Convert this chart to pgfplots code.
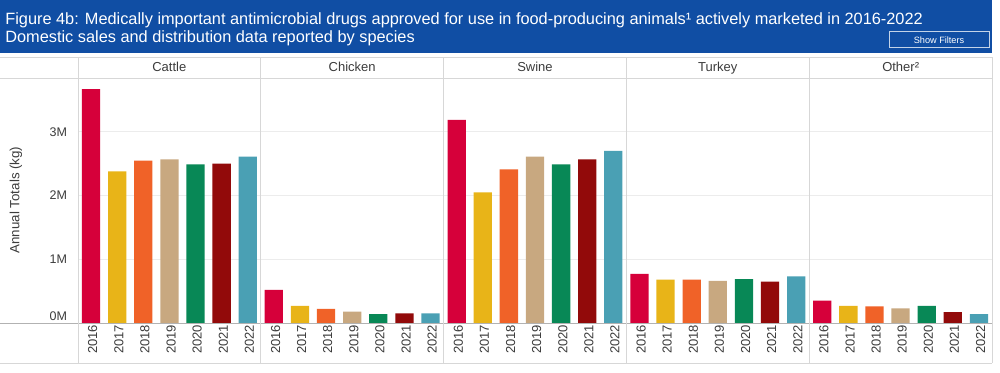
\documentclass[border=0pt]{standalone}
\usepackage{pgfplots}
\pgfplotsset{compat=1.18}
\usepackage{fontspec}
\setmainfont{Liberation Sans}
\definecolor{hdrblue}{RGB}{16,78,164}
\definecolor{c2016}{RGB}{214,0,58}
\definecolor{c2017}{RGB}{232,180,24}
\definecolor{c2018}{RGB}{240,98,40}
\definecolor{c2019}{RGB}{200,168,128}
\definecolor{c2020}{RGB}{8,136,86}
\definecolor{c2021}{RGB}{146,10,10}
\definecolor{c2022}{RGB}{74,160,180}
\definecolor{gridgray}{RGB}{236,236,236}
\definecolor{sepgray}{RGB}{215,215,215}
\definecolor{labgray}{RGB}{60,60,60}
\begin{document}
\begin{tikzpicture}[x=1pt,y=1pt]
\path[use as bounding box] (0,0) rectangle (600,223.8);
\fill[white] (0,0) rectangle (600,223.8);
% header
\fill[hdrblue] (0,192) rectangle (595.2,223.8);
\node[anchor=base west, inner sep=0pt, text=white, font=\fontsize{9.8}{11}\selectfont] at (3,209) {Figure 4b: Medically important antimicrobial drugs approved for use in food-producing animals¹ actively marketed in 2016-2022};
\node[anchor=base west, inner sep=0pt, text=white, font=\fontsize{9.8}{11}\selectfont] at (3,198.0) {Domestic sales and distribution data reported by species};
\draw[white!75!hdrblue, line width=0.6pt] (533.4,195) rectangle (593.4,204.6);
\node[text=white, font=\fontsize{5.5}{6}\selectfont, inner sep=0pt] at (563.4,199.8) {Show Filters};
\begin{axis}[
  at={(46.8pt,30pt)}, anchor=south west,
  scale only axis, width=548.4pt, height=147pt,
  xmin=-0.5, xmax=34.5, ymin=0, ymax=3.846,
  axis line style={draw=none},
  major tick length=0pt,
  ymajorgrids, major grid style={color=gridgray, line width=0.5pt},
  ytick={1,2,3}, yticklabels={1M,2M,3M},
  extra y ticks={0.1}, extra y tick labels={0M},
  extra y tick style={grid=none},
  yticklabel style={font=\fontsize{7.5}{9}\selectfont, text=labgray, xshift=-3pt},
  xtick={0,...,34},
  xticklabels={2016,2017,2018,2019,2020,2021,2022,2016,2017,2018,2019,2020,2021,2022,2016,2017,2018,2019,2020,2021,2022,2016,2017,2018,2019,2020,2021,2022,2016,2017,2018,2019,2020,2021,2022},
  xticklabel style={rotate=90, anchor=east, font=\fontsize{7.8}{9}\selectfont, text=labgray, inner sep=1pt, yshift=-1pt},
  ybar, bar width=0.7, clip=false,
  every axis plot/.append style={draw=none, bar shift=0pt},
]
\addplot[fill=c2016] coordinates {(0,3.67) (7,0.52) (14,3.19) (21,0.77) (28,0.35)};
\addplot[fill=c2017] coordinates {(1,2.38) (8,0.27) (15,2.05) (22,0.68) (29,0.27)};
\addplot[fill=c2018] coordinates {(2,2.55) (9,0.22) (16,2.41) (23,0.68) (30,0.26)};
\addplot[fill=c2019] coordinates {(3,2.57) (10,0.18) (17,2.61) (24,0.66) (31,0.23)};
\addplot[fill=c2020] coordinates {(4,2.49) (11,0.14) (18,2.49) (25,0.69) (32,0.27)};
\addplot[fill=c2021] coordinates {(5,2.50) (12,0.15) (19,2.57) (26,0.65) (33,0.17)};
\addplot[fill=c2022] coordinates {(6,2.61) (13,0.15) (20,2.70) (27,0.73) (34,0.14)};
\end{axis}
% frame lines
\draw[sepgray, line width=0.5pt] (0,189.6) -- (595.2,189.6);
\draw[sepgray, line width=0.5pt] (0,177) -- (595.2,177);
\draw[black!30, line width=0.5pt] (0,30) -- (595.2,30);
\draw[sepgray, line width=0.5pt] (0,6) -- (595.2,6);
\foreach \xx in {46.8,156.5,266.2,375.9,485.6,595.2} {
  \draw[sepgray, line width=0.5pt] (\xx,6) -- (\xx,189.6);
}
% panel titles
\foreach \xx/\lab in {101.6/Cattle,211.3/Chicken,321.0/Swine,430.7/Turkey,540.4/Other²} {
  \node[anchor=base, font=\fontsize{7.8}{9}\selectfont, text=labgray] at (\xx,180.6) {\lab};
}
\node[rotate=90, font=\fontsize{8}{9}\selectfont, text=labgray] at (9.5,103.8) {Annual Totals (kg)};
\end{tikzpicture}
\end{document}
